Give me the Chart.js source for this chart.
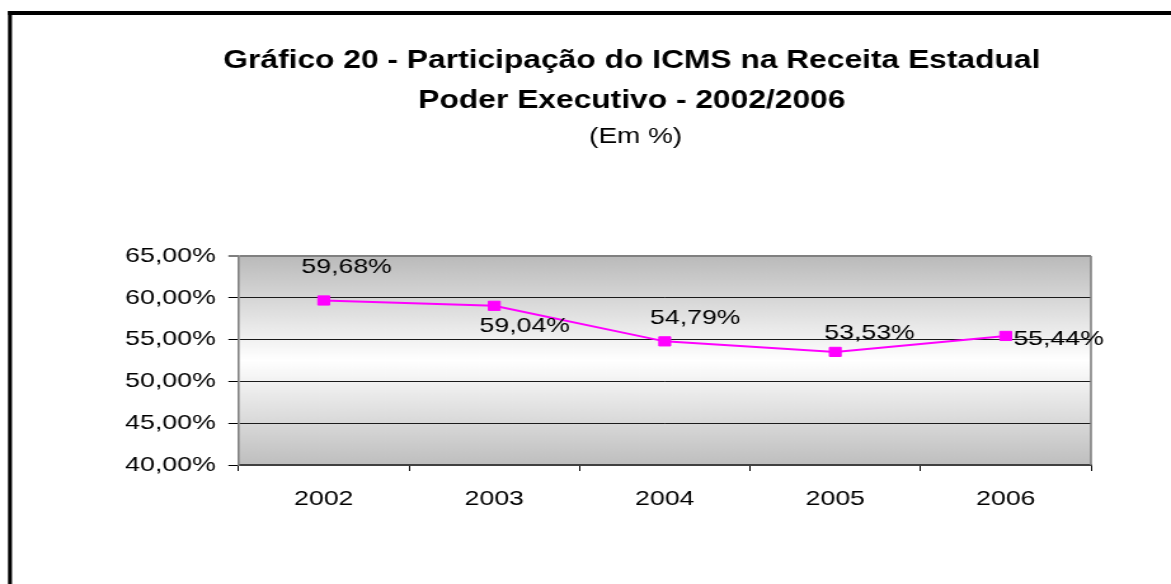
<!DOCTYPE html>
<html><head><meta charset="utf-8">
<script src="https://cdn.jsdelivr.net/npm/chart.js@4.4.1/dist/chart.umd.min.js"></script>
<style>html,body{margin:0;padding:0;background:#fff;overflow:hidden}
canvas{display:block}</style>
</head><body>
<canvas id="c" width="922" height="584" style="width:1171px;height:584px"></canvas>
<script>
// ---- data ----
const categories = ['2002', '2003', '2004', '2005', '2006'];
const icmsShare = [59.68, 59.04, 54.79, 53.53, 55.44];
const yTickValues = [40, 45, 50, 55, 60, 65];
const titleLines = ['Gráfico 20 - Participação do ICMS na Receita Estadual', 'Poder Executivo - 2002/2006'];
const subtitleText = '(Em %)';

const FONT = '"Liberation Sans", Arial, sans-serif';
const fmtPct = v => v.toFixed(2).replace('.', ',') + '%';

const decorPlugin = {
  id: 'decor',
  beforeDraw(chart) {
    const {ctx, chartArea: a} = chart;
    ctx.save();
    const g = ctx.createLinearGradient(0, a.top, 0, a.bottom);
    g.addColorStop(0, '#bababa');
    g.addColorStop(0.5, '#ffffff');
    g.addColorStop(1, '#bebebe');
    ctx.fillStyle = g;
    ctx.fillRect(a.left, a.top, a.right - a.left, a.bottom - a.top);
    ctx.restore();
  },
  afterDraw(chart) {
    const {ctx, chartArea: a, width} = chart;
    ctx.save();
    // right plot border
    ctx.strokeStyle = '#808080';
    ctx.lineWidth = 1.6;
    ctx.beginPath();
    ctx.moveTo(a.right, a.top);
    ctx.lineTo(a.right, a.bottom);
    ctx.stroke();
    // outer frame
    ctx.fillStyle = '#000';
    ctx.fillRect(6.3, 11, width, 4);
    ctx.fillRect(6.3, 11, 3.1, 600);
    // titles
    const cx = 497.5;
    ctx.fillStyle = '#000';
    ctx.textAlign = 'center';
    ctx.textBaseline = 'alphabetic';
    ctx.font = 'bold 25px ' + FONT;
    ctx.fillText(titleLines[0], cx, 68);
    ctx.fillText(titleLines[1], cx, 108);
    ctx.font = '22px ' + FONT;
    ctx.fillText(subtitleText, cx + 3, 143);
    // data labels
    const opts = chart.options.plugins.decor;
    const meta = chart.getDatasetMeta(0);
    ctx.font = '21px ' + FONT;
    ctx.textBaseline = 'middle';
    meta.data.forEach((pt, i) => {
      const p = opts.placement[i];
      ctx.textAlign = p.align;
      ctx.fillText(fmtPct(icmsShare[i]), pt.x + p.dx, pt.y + p.dy);
    });
    ctx.restore();
  }
};

new Chart(document.getElementById('c'), {
  type: 'line',
  data: {
    labels: categories,
    datasets: [{
      data: icmsShare,
      borderColor: '#ff00ff',
      backgroundColor: '#ff00ff',
      borderWidth: 2,
      pointStyle: 'rect',
      pointRadius: 6.5,
      pointBorderWidth: 1,
      pointBorderColor: '#ff00ff',
      pointBackgroundColor: '#ff00ff',
      tension: 0,
      clip: false
    }]
  },
  options: {
    responsive: false,
    devicePixelRatio: 1,
    animation: false,
    events: [],
    layout: {padding: {left: 0, top: 256, right: 63, bottom: 0}},
    plugins: {
      legend: {display: false},
      title: {display: false},
      tooltip: {enabled: false},
      decor: {
        placement: [
          {dx: 18, dy: -33, align: 'center'},
          {dx: 24, dy: 20, align: 'center'},
          {dx: 24, dy: -23, align: 'center'},
          {dx: 27, dy: -19, align: 'center'},
          {dx: 6, dy: 3, align: 'left'}
        ]
      }
    },
    scales: {
      x: {
        offset: true,
        grid: {offset: true, drawOnChartArea: false, tickLength: 6, color: '#000', tickColor: '#000'},
        border: {color: '#404040', width: 2},
        ticks: {font: {family: FONT, size: 21}, color: '#000', padding: 16, maxRotation: 0},
        afterFit(s) { s.height = 584 - 465; }
      },
      y: {
        min: yTickValues[0],
        max: yTickValues[yTickValues.length - 1],
        afterBuildTicks(s) { s.ticks = yTickValues.map(v => ({value: v})); },
        grid: {
          color: c => c.tick && c.tick.value === 65 ? '#808080' : '#1a1a1a',
          lineWidth: c => c.tick && c.tick.value === 65 ? 2 : 1,
          tickColor: '#000',
          tickWidth: 1,
          tickLength: 8
        },
        border: {color: '#808080', width: 1.6},
        ticks: {font: {family: FONT, size: 21}, color: '#000', padding: 10, callback: v => fmtPct(v)},
        afterFit(s) { s.width = 187.8; }
      }
    }
  },
  plugins: [decorPlugin]
});
</script>
</body></html>
